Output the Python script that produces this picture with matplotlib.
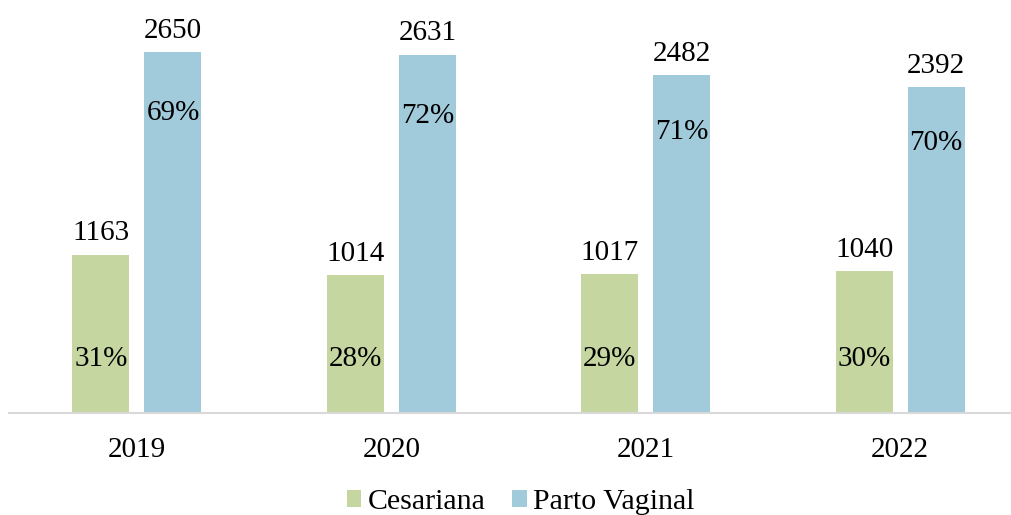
import matplotlib.pyplot as plt
import numpy as np

plt.rcParams['font.family'] = ['Liberation Serif', 'DejaVu Serif']

# Data
years = ["2019", "2020", "2021", "2022"]
cesariana = [1163, 1014, 1017, 1040]
vaginal = [2650, 2631, 2482, 2392]
pct_cesariana = ["31%", "28%", "29%", "30%"]
pct_vaginal = ["69%", "72%", "71%", "70%"]

green = "#c6d6a0"
blue = "#a1cadb"

fig = plt.figure(figsize=(10.12, 5.15), dpi=100)
ax = fig.add_axes([9 / 1012, 1 - 413 / 515, 1003 / 1012, 413 / 515])

x = np.arange(len(years))
w = 0.224
off = 0.1415
ax.bar(x - off, cesariana, w, color=green, label="Cesariana")
ax.bar(x + off, vaginal, w, color=blue, label="Parto Vaginal")

fs = 21
for i in range(len(years)):
    ax.text(x[i] - off, cesariana[i] + 60, str(cesariana[i]), ha="center", va="bottom", fontsize=fs)
    ax.text(x[i] + off, vaginal[i] + 60, str(vaginal[i]), ha="center", va="bottom", fontsize=fs)
    ax.text(x[i] - off, 395, pct_cesariana[i], ha="center", va="center", fontsize=fs)
    ax.text(x[i] + off, vaginal[i] * 0.83, pct_vaginal[i], ha="center", va="center", fontsize=fs)

ax.set_xlim(-0.503, 3.44)
ax.set_ylim(0, 3032)
ax.set_xticks(x)
ax.set_xticklabels(years, fontsize=fs)
ax.tick_params(axis="x", length=0, pad=17)
ax.set_yticks([])
for s in ["top", "right", "left"]:
    ax.spines[s].set_visible(False)
ax.spines["bottom"].set_color("#d9d9d9")
ax.spines["bottom"].set_linewidth(1.5)

ax.legend(loc="center", bbox_to_anchor=(0.51, -0.215), ncol=2, frameon=False,
          fontsize=21.5, handlelength=0.5, handleheight=0.5, handletextpad=0.2,
          columnspacing=0.9)

fig.savefig("out.png", dpi=100)
